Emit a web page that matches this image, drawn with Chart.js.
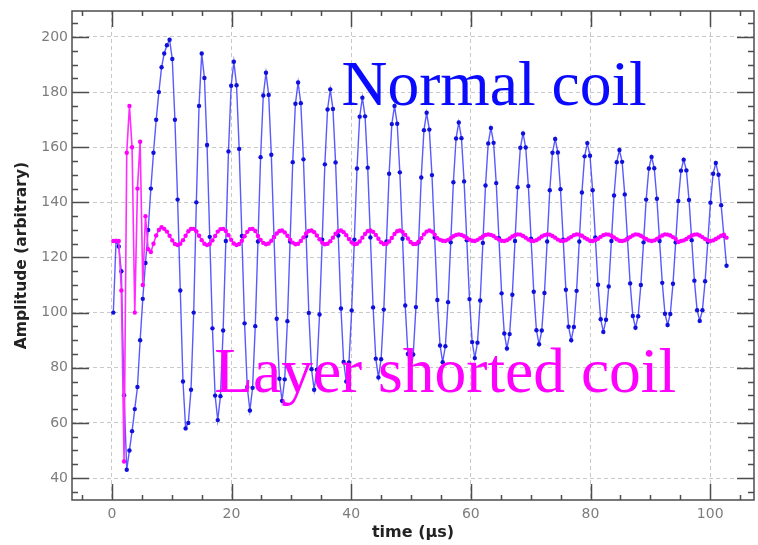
<!DOCTYPE html>
<html>
<head>
<meta charset="utf-8">
<script src="https://cdn.jsdelivr.net/npm/chart.js@4.4.0/dist/chart.umd.min.js"></script>
<style>
  html, body { margin: 0; padding: 0; background: #fff; }
  #wrap { width: 758px; height: 545px; }
</style>
</head>
<body>
<div id="wrap"><canvas id="coil-chart" width="758" height="545"></canvas></div>
<script>
// Sample times (µs), shared by both traces
const sampleTime = [
  0.25, 0.70, 1.15, 1.59, 2.04, 2.49, 2.94, 3.38,
  3.83, 4.28, 4.73, 5.17, 5.62, 6.07, 6.52, 6.96,
  7.41, 7.86, 8.31, 8.75, 9.20, 9.65, 10.10, 10.54,
  10.99, 11.44, 11.89, 12.33, 12.78, 13.23, 13.68, 14.12,
  14.57, 15.02, 15.47, 15.91, 16.36, 16.81, 17.26, 17.70,
  18.15, 18.60, 19.05, 19.49, 19.94, 20.39, 20.84, 21.28,
  21.73, 22.18, 22.63, 23.07, 23.52, 23.97, 24.42, 24.86,
  25.31, 25.76, 26.21, 26.65, 27.10, 27.55, 28.00, 28.44,
  28.89, 29.34, 29.79, 30.23, 30.68, 31.13, 31.58, 32.02,
  32.47, 32.92, 33.37, 33.81, 34.26, 34.71, 35.16, 35.60,
  36.05, 36.50, 36.95, 37.39, 37.84, 38.29, 38.74, 39.18,
  39.63, 40.08, 40.53, 40.97, 41.42, 41.87, 42.32, 42.76,
  43.21, 43.66, 44.11, 44.55, 45.00, 45.45, 45.90, 46.34,
  46.79, 47.24, 47.69, 48.13, 48.58, 49.03, 49.48, 49.92,
  50.37, 50.82, 51.27, 51.71, 52.16, 52.61, 53.06, 53.50,
  53.95, 54.40, 54.85, 55.29, 55.74, 56.19, 56.64, 57.08,
  57.53, 57.98, 58.43, 58.87, 59.32, 59.77, 60.22, 60.66,
  61.11, 61.56, 62.01, 62.45, 62.90, 63.35, 63.80, 64.24,
  64.69, 65.14, 65.59, 66.03, 66.48, 66.93, 67.38, 67.82,
  68.27, 68.72, 69.17, 69.61, 70.06, 70.51, 70.96, 71.40,
  71.85, 72.30, 72.75, 73.19, 73.64, 74.09, 74.54, 74.98,
  75.43, 75.88, 76.33, 76.77, 77.22, 77.67, 78.12, 78.56,
  79.01, 79.46, 79.91, 80.35, 80.80, 81.25, 81.70, 82.14,
  82.59, 83.04, 83.49, 83.93, 84.38, 84.83, 85.28, 85.72,
  86.17, 86.62, 87.07, 87.51, 87.96, 88.41, 88.86, 89.30,
  89.75, 90.20, 90.65, 91.09, 91.54, 91.99, 92.44, 92.88,
  93.33, 93.78, 94.23, 94.67, 95.12, 95.57, 96.02, 96.46,
  96.91, 97.36, 97.81, 98.25, 98.70, 99.15, 99.60, 100.04,
  100.49, 100.94, 101.39, 101.83, 102.28, 102.73
];

// Normal coil (blue)
const normalCoil = [
  100, 126, 124, 115, 70, 43, 50, 57, 65, 73, 90, 105,
  118, 130, 145, 158, 170, 180, 189, 194, 197, 199, 192, 170,
  141, 108, 75, 58, 60, 72, 100, 140, 175, 194, 185.1, 160.8,
  127.5, 94.3, 69.9, 61, 69.7, 93.5, 126, 158.5, 182.3, 191, 182.5, 159.4,
  127.8, 96.1, 73.0, 64.5, 72.7, 95.1, 125.8, 156.4, 178.8, 187, 179.0, 157.3,
  127.5, 97.8, 76.0, 68, 75.8, 96.9, 125.8, 154.6, 175.8, 183.5, 176.0, 155.6,
  127.8, 99.9, 79.5, 72, 79.3, 99.3, 126.5, 153.8, 173.7, 181, 173.9, 154.5,
  128, 101.5, 82.1, 75, 81.9, 100.8, 126.5, 152.3, 171.1, 178, 171.2, 152.6,
  127.3, 101.9, 83.3, 76.5, 83.1, 101.1, 125.8, 150.4, 168.4, 175, 168.5, 150.9,
  126.8, 102.6, 85.0, 78.5, 84.8, 102.0, 125.5, 149.0, 166.2, 172.5, 166.4, 149.9,
  127.3, 104.6, 88.1, 82, 87.8, 103.8, 125.5, 147.3, 163.2, 169, 163.3, 147.6,
  126.3, 104.9, 89.3, 83.5, 89.1, 104.4, 125.3, 146.1, 161.4, 167, 161.6, 147,
  127, 107, 92.4, 87, 92.2, 106.5, 126, 145.5, 159.8, 165, 159.9, 145.9,
  126.8, 107.6, 93.6, 88.5, 93.5, 107.1, 125.8, 144.4, 158.0, 163, 158.1, 144.8,
  126.5, 108.3, 94.9, 90, 94.8, 107.9, 125.8, 143.6, 156.7, 161.5, 156.9, 144.4,
  127.3, 110.1, 97.6, 93, 97.4, 109.5, 126, 142.5, 154.6, 159, 154.7, 142.9,
  126.8, 110.6, 98.8, 94.5, 98.7, 110.0, 125.5, 141.0, 152.3, 156.5, 152.4, 141.3,
  126, 110.8, 99.6, 95.5, 99.5, 110.5, 125.5, 140.5, 151.5, 155.5, 151.6, 140.9,
  126.3, 111.6, 100.9, 97, 100.9, 111.4, 125.7, 139.9, 150.4, 154.3, 150, 139,
  128, 117
];

// Layer shorted coil (magenta)
const shortedCoil = [
  126, 126, 126, 108, 46, 158, 175, 160, 100, 145, 162, 110,
  135, 123, 122, 125, 128, 130, 131, 130.4, 129.4, 127.9, 126.2, 124.9,
  124.5, 125.0, 126.3, 127.9, 129.5, 130.4, 130.4, 129.5, 127.9, 126.3, 125.0, 124.5,
  124.9, 126.2, 127.8, 129.4, 130.3, 130.4, 129.6, 128.1, 126.4, 125.1, 124.5, 124.9,
  126.1, 127.7, 129.3, 130.3, 130.4, 129.6, 127.8, 126.4, 125.3, 124.8, 125.1, 126.1,
  127.4, 128.7, 129.6, 129.8, 129.1, 127.9, 126.5, 125.4, 124.8, 125.0, 126.0, 127.3,
  128.7, 129.6, 129.8, 129.2, 128.0, 126.6, 125.4, 124.8, 125.0, 125.9, 127.2, 128.6,
  129.5, 129.8, 129.2, 128.1, 126.7, 125.5, 124.8, 125.0, 125.8, 127.2, 128.5, 129.5,
  129.8, 129.3, 128.2, 126.8, 125.5, 124.9, 125.0, 125.8, 127.1, 128.5, 129.5, 129.8,
  129.3, 128.2, 126.9, 125.6, 124.9, 124.9, 125.7, 127.0, 128.4, 129.4, 129.8, 129.4,
  128.3, 127.0, 126.4, 126.1, 126.0, 126.4, 127.0, 127.7, 128.2, 128.4, 128.2, 127.7,
  127.1, 126.5, 126.1, 126.0, 126.4, 127.0, 127.6, 128.2, 128.4, 128.2, 127.8, 127.1,
  126.5, 126.1, 126.0, 126.3, 126.9, 127.6, 128.1, 128.4, 128.3, 127.8, 127.2, 126.5,
  126.1, 126.0, 126.3, 126.9, 127.6, 128.1, 128.4, 128.3, 127.8, 127.2, 126.5, 126.1,
  126.0, 126.3, 126.9, 127.5, 128.1, 128.4, 128.3, 127.9, 127.2, 126.6, 126.1, 126.0,
  126.3, 126.8, 127.5, 128.1, 128.4, 128.3, 127.9, 127.3, 126.6, 126.1, 126.0, 126.2,
  126.8, 127.4, 128.0, 128.4, 128.3, 127.9, 127.3, 126.7, 126.2, 126.0, 126.2, 126.7,
  127.4, 128.0, 128.4, 128.3, 128.0, 127.4, 126.7, 125.6, 126.0, 126.2, 126.7, 127.4,
  128.0, 128.3, 128.4, 128.0, 127.4, 126.7, 126.2, 126.0, 126.2, 126.7, 127.3, 127.9,
  128.3, 127.2
];

// Tick labels
const timeTicks = [0, 20, 40, 60, 80, 100];
const ampTicks = [40, 60, 80, 100, 120, 140, 160, 180, 200];

// Series names (drawn as in-plot labels)
const seriesNames = ["Normal coil", "Layer shorted coil"];

function toPoints(values) {
  return sampleTime
    .map(function (t, i) { return { x: t, y: values[i] }; })
    .filter(function (p) { return p.y !== undefined; });
}

// Inward tick marks, frame and in-plot labels
const frameAndLabels = {
  id: "frameAndLabels",
  afterDraw(chart) {
    const ctx = chart.ctx;
    const a = chart.chartArea;
    const xs = chart.scales.x;
    const ys = chart.scales.y;
    ctx.save();
    ctx.strokeStyle = "#4d4d4d";
    ctx.lineWidth = 1.5;
    ctx.strokeRect(a.left, a.top, a.right - a.left, a.bottom - a.top);

    ctx.beginPath();
    for (let v = Math.ceil(xs.min / 5) * 5; v <= xs.max; v += 5) {
      const px = Math.round(xs.getPixelForValue(v)) + 0.5;
      const len = v % 20 === 0 ? 16 : 5;
      ctx.moveTo(px, a.bottom); ctx.lineTo(px, a.bottom - len);
      ctx.moveTo(px, a.top); ctx.lineTo(px, a.top + len);
    }
    for (let v = Math.ceil(ys.min / 5) * 5; v <= ys.max; v += 5) {
      const py = Math.round(ys.getPixelForValue(v)) + 0.5;
      const len = v % 20 === 0 ? 17 : 6;
      ctx.moveTo(a.left, py); ctx.lineTo(a.left + len, py);
      ctx.moveTo(a.right, py); ctx.lineTo(a.right - len, py);
    }
    ctx.stroke();

    ctx.font = '63.5px "Liberation Serif"';
    ctx.textAlign = "left";
    ctx.textBaseline = "alphabetic";
    ctx.fillStyle = "#0a0aff";
    ctx.fillText(seriesNames[0], xs.getPixelForValue(38.4), ys.getPixelForValue(175.3));
    ctx.fillStyle = "#ff00ff";
    ctx.fillText(seriesNames[1], xs.getPixelForValue(17.1), ys.getPixelForValue(71.2));
    ctx.restore();
  }
};

const tickFont = { family: "DejaVu Sans", size: 14 };
const titleFont = { family: "DejaVu Sans", weight: "bold" };

const config = {
  type: "line",
  data: {
    datasets: [
      {
        label: seriesNames[1],
        data: toPoints(shortedCoil),
        borderColor: "#ff2bff",
        borderWidth: 1.6,
        pointRadius: 2.2,
        pointBorderWidth: 0,
        pointBackgroundColor: "#ff00ff",
        tension: 0,
      },
      {
        label: seriesNames[0],
        data: toPoints(normalCoil),
        borderColor: "rgba(60, 60, 255, 0.85)",
        borderWidth: 1.4,
        pointRadius: 2.2,
        pointBorderWidth: 0,
        pointBackgroundColor: "#1010dd",
        tension: 0,
      },
    ],
  },
  options: {
    responsive: false,
    animation: false,
    devicePixelRatio: 1,
    layout: { padding: { top: 11, right: 1, left: 0, bottom: 0 } },
    plugins: { legend: { display: false }, tooltip: { enabled: false } },
    scales: {
      x: {
        type: "linear",
        min: -6.66,
        max: 107.32,
        afterBuildTicks: function (s) { s.ticks = timeTicks.map(function (v) { return { value: v }; }); },
        afterFit: function (s) { s.height = 45; s.paddingLeft = 0; s.paddingRight = 0; },
        grid: { color: "#c9c9c9", lineWidth: 1, drawTicks: false },
        border: { display: false, dash: [4, 3] },
        ticks: { color: "#7d7d7d", font: tickFont, padding: 6, maxRotation: 0, autoSkip: false },
        title: {
          display: true, text: "time (µs)", color: "#222",
          font: Object.assign({ size: 16 }, titleFont), padding: { top: 0, bottom: 3 },
        },
      },
      y: {
        type: "linear",
        min: 32.02,
        max: 209.43,
        afterBuildTicks: function (s) { s.ticks = ampTicks.map(function (v) { return { value: v }; }); },
        afterFit: function (s) { s.width = 72; s.paddingTop = 0; s.paddingBottom = 0; },
        grid: { color: "#c9c9c9", lineWidth: 1, drawTicks: false },
        border: { display: false, dash: [4, 3] },
        ticks: { color: "#7d7d7d", font: tickFont, padding: 4, autoSkip: false },
        title: {
          display: true, text: "Amplitude (arbitrary)", color: "#222",
          font: Object.assign({ size: 15.5 }, titleFont), padding: { top: 13, bottom: 0 },
        },
      },
    },
  },
  plugins: [frameAndLabels],
};

// Draw the chart
let coilChart = new Chart(document.getElementById("coil-chart"), config);
</script>
</body>
</html>
